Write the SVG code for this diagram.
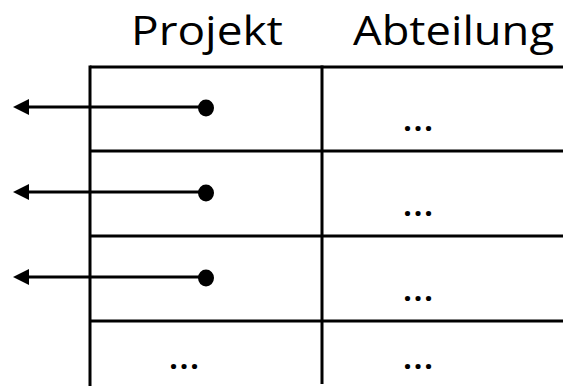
<svg xmlns="http://www.w3.org/2000/svg" width="563" height="386" viewBox="0 0 563 386">
  <style>
    .grid { stroke: #000; stroke-width: 3; fill: none; }
    .conn { stroke: #000; stroke-width: 3; fill: none; }
    .head { font-family: "Open Sans", "Noto Sans", sans-serif; font-size: 41px; fill: #000; }
    .cell { font-family: "Open Sans", "Noto Sans", sans-serif; font-size: 30px; font-weight: bold; fill: #000; text-anchor: middle; letter-spacing: 2px; }
  </style>
  <defs>
    <marker id="arrow" viewBox="0 0 16 16" refX="1" refY="8" markerWidth="16" markerHeight="16" markerUnits="userSpaceOnUse" orient="auto-start-reverse">
      <path d="M0,0 L16,8 L0,16 z" fill="#000"/>
    </marker>
  </defs>

  <!-- column headers -->
  <g id="header-projekt"><text class="head" x="131" y="45" textLength="152" lengthAdjust="spacingAndGlyphs">Projekt</text></g>
  <g id="header-abteilung"><text class="head" x="353" y="45" textLength="201" lengthAdjust="spacingAndGlyphs">Abteilung</text></g>

  <!-- table grid -->
  <g id="table">
    <line class="grid" x1="90" y1="67" x2="563" y2="67"/>
    <line class="grid" x1="90" y1="151" x2="563" y2="151"/>
    <line class="grid" x1="90" y1="236" x2="563" y2="236"/>
    <line class="grid" x1="90" y1="321" x2="563" y2="321"/>
    <line class="grid" x1="90" y1="65.5" x2="90" y2="386"/>
    <line class="grid" x1="322" y1="65.5" x2="322" y2="384"/>
  </g>

  <!-- cell contents -->
  <g id="row1"><text class="cell" x="419" y="131">...</text></g>
  <g id="row2"><text class="cell" x="419" y="216">...</text></g>
  <g id="row3"><text class="cell" x="419" y="301">...</text></g>
  <g id="row4">
    <text class="cell" x="185" y="369">...</text>
    <text class="cell" x="419" y="369">...</text>
  </g>

  <!-- foreign-key references -->
  <g id="connectors">
    <line class="conn" x1="206" y1="107" x2="28" y2="107" marker-end="url(#arrow)"/>
    <ellipse cx="206" cy="108" rx="8" ry="8.5" fill="#000"/>
    <line class="conn" x1="206" y1="192" x2="28" y2="192" marker-end="url(#arrow)"/>
    <ellipse cx="206" cy="193" rx="8" ry="8.5" fill="#000"/>
    <line class="conn" x1="206" y1="277" x2="28" y2="277" marker-end="url(#arrow)"/>
    <ellipse cx="206" cy="278" rx="8" ry="8.5" fill="#000"/>
  </g>
</svg>
